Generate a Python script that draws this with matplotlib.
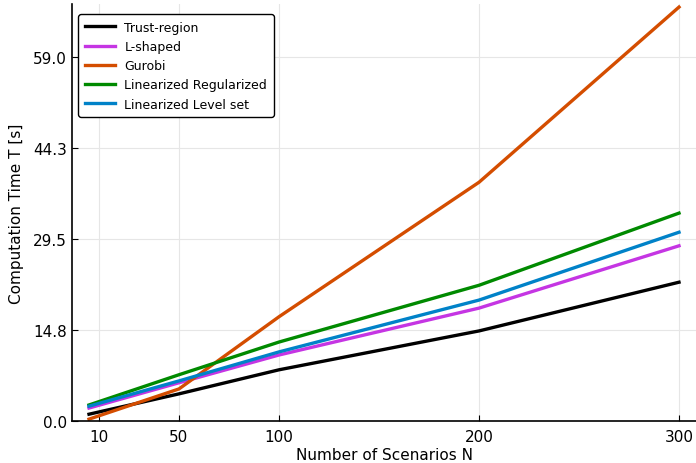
import numpy as np
import matplotlib
matplotlib.use("Agg")
import matplotlib.pyplot as plt

# Scenario counts and computation times [s]
scenarios = [5, 50, 100, 200, 300]
trust_region = [1.1, 4.4, 8.3, 14.6, 22.5]
l_shaped = [2.1, 6.2, 10.7, 18.3, 28.4]
gurobi = [0.3, 5.2, 16.9, 38.7, 67.1]
lin_regularized = [2.6, 7.5, 12.8, 22.0, 33.7]
lin_level_set = [2.4, 6.5, 11.2, 19.6, 30.6]

series_names = ["Trust-region", "L-shaped", "Gurobi",
                "Linearized Regularized", "Linearized Level set"]
series_colors = ["#000000", "#c535e3", "#d44d00", "#008a00", "#0082c8"]

x_ticks = [10, 50, 100, 200, 300]
y_ticks = [0.0, 14.8, 29.5, 44.3, 59.0]

fig = plt.figure(figsize=(6.96, 4.64), dpi=100)
ax = fig.add_axes([72 / 696, 42 / 464, 624 / 696, 417 / 464])

all_series = [trust_region, l_shaped, gurobi, lin_regularized, lin_level_set]
for name, vals, col in zip(series_names, all_series, series_colors):
    ax.plot(scenarios, vals, color=col, lw=2.4, label=name)

ax.set_xlim(-3.5, 308.5)
ax.set_ylim(0, 67.6)
ax.set_xticks(x_ticks)
ax.set_yticks(y_ticks)
ax.set_yticklabels([f"{v:.1f}" for v in y_ticks])
ax.tick_params(direction="in", length=4, labelsize=11, width=0.8)
ax.tick_params(axis="x", pad=6)
ax.grid(True, color="#e6e6e6", lw=0.8)
ax.set_axisbelow(True)
for s in ["top", "right"]:
    ax.spines[s].set_visible(False)
for s in ["left", "bottom"]:
    ax.spines[s].set_linewidth(1.2)

ax.set_xlabel("Number of Scenarios N", fontsize=11, labelpad=2)
ax.set_ylabel("Computation Time T [s]", fontsize=11, labelpad=7)

leg = ax.legend(loc="upper left", bbox_to_anchor=(0.0, 0.99), fontsize=9,
                frameon=True, fancybox=True, edgecolor="black", framealpha=1,
                handlelength=2.4, borderaxespad=0.5, labelspacing=0.5,
                borderpad=0.5)
leg.get_frame().set_linewidth(1.0)

fig.savefig("out.png", dpi=100)
